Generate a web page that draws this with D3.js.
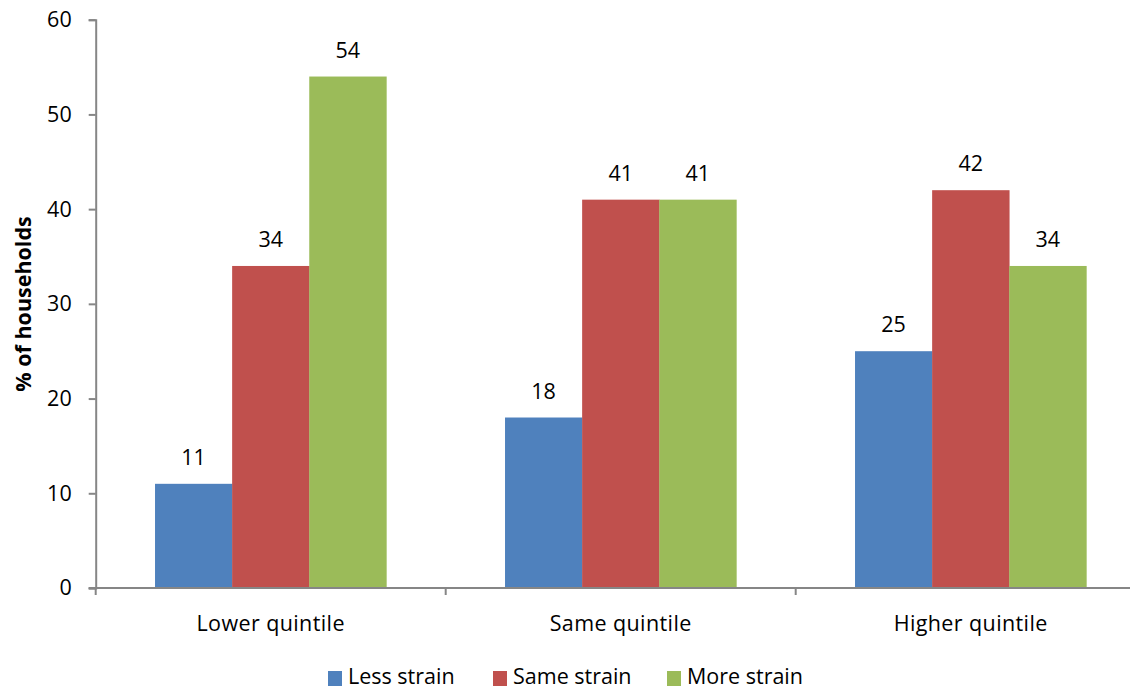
<!DOCTYPE html>
<html><head><meta charset="utf-8">
<script src="https://cdn.jsdelivr.net/npm/d3@7"></script>
<style>body{margin:0;background:#fff;} text{font-family:"Open Sans",sans-serif;}</style>
</head><body>
<svg id="c" width="1130" height="689"></svg>
<script>
const categories = ["Lower quintile", "Same quintile", "Higher quintile"];
const seriesNames = ["Less strain", "Same strain", "More strain"];
const lessStrain = [11, 18, 25];
const sameStrain = [34, 41, 42];
const moreStrain = [54, 41, 34];
const yTicks = [0, 10, 20, 30, 40, 50, 60];
const colors = ["#4F81BD", "#C0504D", "#9BBB59"];
const seriesValues = [lessStrain, sameStrain, moreStrain];

const FS = 21.5;
const svg = d3.select("#c");
const x0 = 95.7, x1 = 1145.7, yTop = 19.7, yBot = 588;
const x = d3.scaleBand().domain(categories).range([x0, x1]).paddingInner(0.339).paddingOuter(0.1695);
const xs = d3.scaleBand().domain(seriesNames).range([0, x.bandwidth()]);
const y = d3.scaleLinear().domain([0, 60]).range([yBot, yTop]);

// bars
seriesNames.forEach((s, si) => {
  svg.append("g").selectAll("rect").data(categories).join("rect")
    .attr("x", c => x(c) + xs(s))
    .attr("y", (c, i) => y(seriesValues[si][i]))
    .attr("width", xs.bandwidth() + 0.3)
    .attr("height", (c, i) => yBot - y(seriesValues[si][i]))
    .attr("fill", colors[si]);
  svg.append("g").selectAll("text").data(categories).join("text")
    .attr("x", c => x(c) + xs(s) + xs.bandwidth() / 2)
    .attr("y", (c, i) => y(seriesValues[si][i]) - 19)
    .attr("text-anchor", "middle")
    .attr("font-size", FS)
    .attr("fill", "#000")
    .text((c, i) => seriesValues[si][i]);
});

// y axis
const ya = svg.append("g").attr("transform", `translate(${x0},0)`)
  .call(d3.axisLeft(y).tickValues(yTicks).tickSize(7).tickPadding(17));
ya.select(".domain").attr("stroke", "#868686").attr("stroke-width", 2);
ya.selectAll(".tick line").attr("stroke", "#868686").attr("stroke-width", 2);
ya.selectAll(".tick text").attr("font-size", FS).attr("fill", "#000").attr("font-family", "Open Sans");

// x axis
const xa = svg.append("g").attr("transform", `translate(0,${yBot})`);
xa.append("line").attr("x1", x0 - 7).attr("x2", 1130).attr("y1", 0).attr("y2", 0)
  .attr("stroke", "#868686").attr("stroke-width", 2);
const bounds = d3.range(categories.length + 1).map(i => x0 + i * x.step());
xa.selectAll("line.t").data(bounds).join("line").attr("class", "t")
  .attr("x1", d => d).attr("x2", d => d).attr("y1", 0).attr("y2", 7)
  .attr("stroke", "#868686").attr("stroke-width", 2);
xa.selectAll("text").data(categories).join("text")
  .attr("x", c => x(c) + x.bandwidth() / 2)
  .attr("y", 43)
  .attr("text-anchor", "middle").attr("font-size", FS).attr("fill", "#000")
  .attr("letter-spacing", 0.4)
  .text(c => c);

// y title
svg.append("text").attr("transform", `translate(31,304) rotate(-90)`)
  .attr("text-anchor", "middle").attr("font-size", FS).attr("font-weight", "bold")
  .text("% of households");

// legend
const legX = [328, 493, 667];
const lg = svg.append("g");
seriesNames.forEach((s, i) => {
  lg.append("rect").attr("x", legX[i]).attr("y", 671).attr("width", 14).attr("height", 15).attr("fill", colors[i]);
  lg.append("text").attr("x", legX[i] + 20).attr("y", 684).attr("font-size", FS).attr("fill", "#000").text(s);
});
</script>
</body></html>
